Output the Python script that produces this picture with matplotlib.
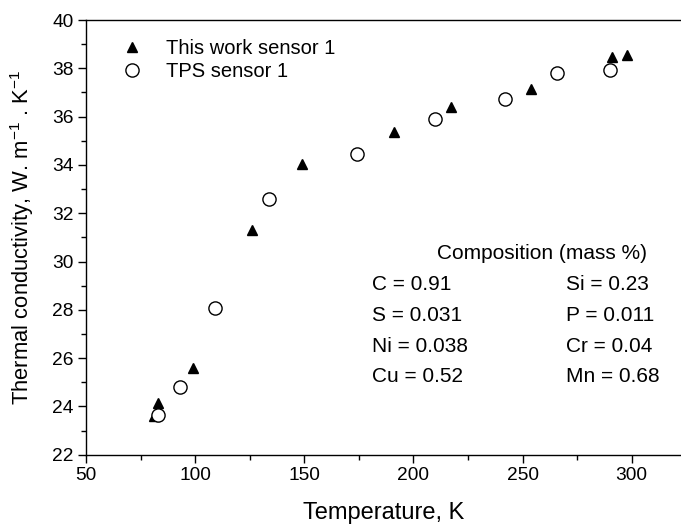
import matplotlib
matplotlib.use('Agg')
import matplotlib.pyplot as plt
from matplotlib.ticker import MultipleLocator

plt.rcParams['font.family'] = ['Liberation Sans', 'DejaVu Sans']
plt.rcParams['mathtext.fontset'] = 'custom'
plt.rcParams['mathtext.rm'] = 'Liberation Sans'
plt.rcParams['mathtext.it'] = 'Liberation Sans'

# This work sensor 1 (triangles)
work_T = [81, 83, 99, 126, 149, 191, 217, 254, 291, 298]
work_k = [23.6, 24.15, 25.6, 31.3, 34.05, 35.35, 36.4, 37.15, 38.45, 38.55]

# TPS sensor 1 (open circles)
tps_T = [83, 93, 109, 134, 174, 210, 242, 266, 290]
tps_k = [23.63, 24.8, 28.06, 32.57, 34.46, 35.9, 36.73, 37.82, 37.93]

comp_left = ['C = 0.91', 'S = 0.031', 'Ni = 0.038', 'Cu = 0.52']
comp_right = ['Si = 0.23', 'P = 0.011', 'Cr = 0.04', 'Mn = 0.68']

fig = plt.figure(figsize=(6.81, 5.25), dpi=100)
ax = fig.add_axes([0.1263, 0.1339, 0.8737, 0.828])

ax.plot(work_T, work_k, linestyle='none', marker='^', ms=6.5, color='black',
        label='This work sensor 1')
ax.plot(tps_T, tps_k, linestyle='none', marker='o', ms=9.5, mfc='white',
        mec='black', mew=1.0, label='TPS sensor 1')

ax.set_xlim(50, 322.6)
ax.set_ylim(22, 40)
ax.xaxis.set_major_locator(MultipleLocator(50))
ax.xaxis.set_minor_locator(MultipleLocator(25))
ax.yaxis.set_major_locator(MultipleLocator(2))
ax.yaxis.set_minor_locator(MultipleLocator(1))
ax.tick_params(which='major', direction='out', length=6, width=1, labelsize=13.8, pad=3)
ax.tick_params(which='minor', direction='out', length=3.5, width=1)
ax.spines['right'].set_visible(False)
for s in ['left', 'bottom', 'top']:
    ax.spines[s].set_linewidth(1.0)

ax.set_xlabel('Temperature, K', fontsize=17)
ax.xaxis.set_label_coords(0.5, -0.109)
ax.set_ylabel('Thermal conductivity, W. m$^{\\mathregular{-1}}$ . K$^{\\mathregular{-1}}$', fontsize=15.8)
ax.yaxis.set_label_coords(-0.084, 0.5)

ax.legend(loc='upper left', frameon=False, fontsize=14.5, handlelength=1.0,
          handletextpad=1.2, borderpad=0, borderaxespad=0, labelspacing=0.2,
          bbox_to_anchor=(0.0605, 0.956))

ax.text(0.59, 0.464, 'Composition (mass %)', transform=ax.transAxes,
        fontsize=15, va='center', ha='left')
for i, (l, r) in enumerate(zip(comp_left, comp_right)):
    y = 0.392 - i * 0.071
    ax.text(0.4807, y, l, transform=ax.transAxes, fontsize=15, va='center')
    ax.text(0.8067, y, r, transform=ax.transAxes, fontsize=15, va='center')

fig.savefig('out.png', dpi=100)
